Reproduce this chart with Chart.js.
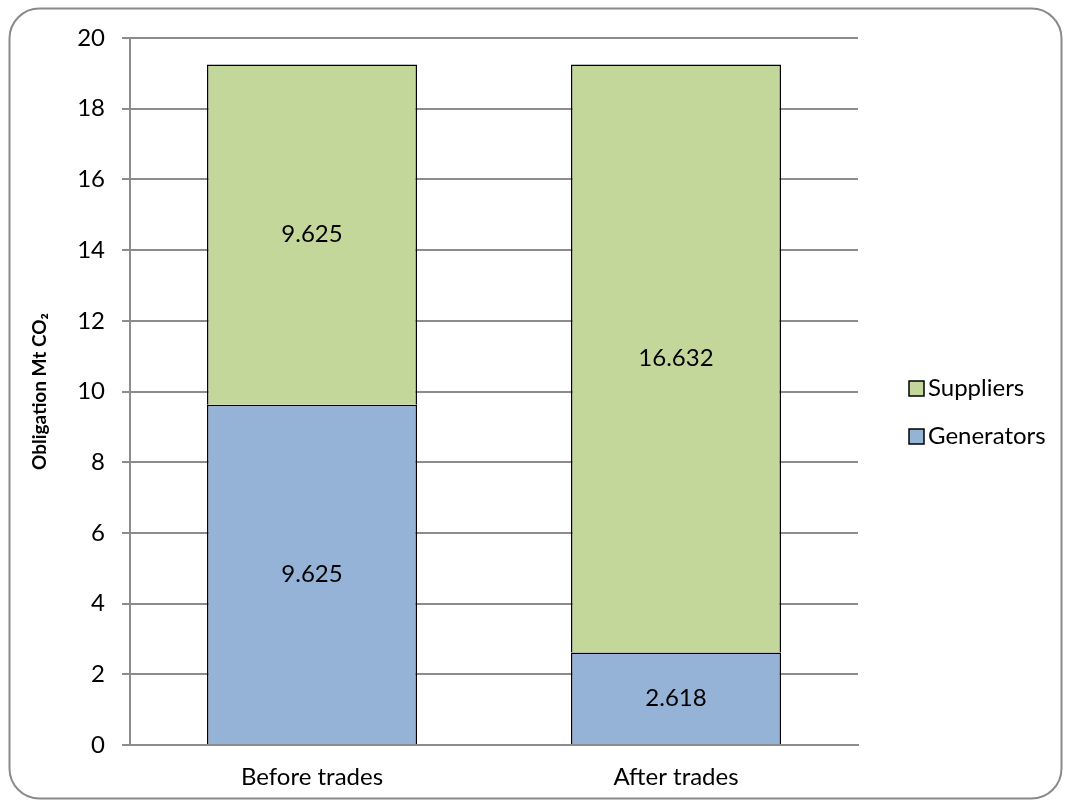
<!DOCTYPE html>
<html>
<head>
<meta charset="utf-8">
<script src="https://cdn.jsdelivr.net/npm/chart.js@4"></script>
<style>
  html, body { margin: 0; padding: 0; background: #fff; }
  #wrap { width: 1070px; height: 805px; }
</style>
</head>
<body>
<div id="wrap"><canvas id="obligationChart" width="1070" height="805"></canvas></div>
<script>
const categories = ['Before trades', 'After trades'];
const generators = [9.625, 2.618];
const suppliers = [9.625, 16.632];
const yTicks = [0, 2, 4, 6, 8, 10, 12, 14, 16, 18, 20];

const FONT = 'Lato, "Open Sans", sans-serif';
const BLUE = '#95B3D7';
const GREEN = '#C4D79B';

// rounded frame around the whole chart
const framePlugin = {
  id: 'frame',
  beforeDraw(chart) {
    const ctx = chart.ctx;
    ctx.save();
    ctx.fillStyle = '#fff';
    ctx.fillRect(0, 0, chart.width, chart.height);
    ctx.beginPath();
    ctx.roundRect(9.5, 8.5, 1052, 790, 30);
    ctx.strokeStyle = '#8a8a8a';
    ctx.lineWidth = 2;
    ctx.stroke();
    ctx.restore();
  }
};

// values written in the middle of each segment
const valueLabels = {
  id: 'valueLabels',
  afterDatasetsDraw(chart) {
    const ctx = chart.ctx;
    ctx.save();
    ctx.font = '24px ' + FONT;
    ctx.fillStyle = '#000';
    ctx.textAlign = 'center';
    ctx.textBaseline = 'middle';
    chart.data.datasets.forEach((ds, i) => {
      chart.getDatasetMeta(i).data.forEach((bar, j) => {
        const p = bar.getProps(['x', 'y', 'base'], true);
        ctx.fillText(ds.data[j].toFixed(3), p.x, (p.y + p.base) / 2);
      });
    });
    ctx.restore();
  }
};

// legend on the right, suppliers first
const sideLegend = {
  id: 'sideLegend',
  afterDraw(chart) {
    const ctx = chart.ctx;
    const items = [chart.data.datasets[1], chart.data.datasets[0]];
    ctx.save();
    ctx.font = '24px ' + FONT;
    ctx.textBaseline = 'middle';
    items.forEach((ds, i) => {
      const y = 388 + i * 48;
      ctx.fillStyle = ds.backgroundColor;
      ctx.fillRect(909, y - 7, 15, 15);
      ctx.strokeStyle = '#000';
      ctx.lineWidth = 1.5;
      ctx.strokeRect(909, y - 7, 15, 15);
      ctx.fillStyle = '#000';
      ctx.fillText(ds.label, 928, y);
    });
    ctx.restore();
  }
};

new Chart(document.getElementById('obligationChart'), {
  type: 'bar',
  data: {
    labels: categories,
    datasets: [
      { label: 'Generators', data: generators, backgroundColor: BLUE, borderColor: '#000', borderWidth: 1.5 },
      { label: 'Suppliers', data: suppliers, backgroundColor: GREEN, borderColor: '#000', borderWidth: 1.5 }
    ]
  },
  options: {
    responsive: false,
    animation: false,
    devicePixelRatio: 1,
    layout: { padding: { top: 38, right: 212, bottom: 0, left: 0 } },
    datasets: { bar: { categoryPercentage: 1, barPercentage: 0.577 } },
    plugins: { legend: { display: false }, tooltip: { enabled: false } },
    scales: {
      x: {
        stacked: true,
        grid: { display: false },
        border: { color: '#8c8c8c', width: 2 },
        ticks: { color: '#000', font: { family: FONT, size: 24 }, padding: 10 },
        afterFit(scale) { scale.height = 60; }
      },
      y: {
        stacked: true,
        min: 0,
        max: 20,
        afterBuildTicks(scale) { scale.ticks = yTicks.map(v => ({ value: v })); },
        grid: { color: '#8c8c8c', lineWidth: 2, tickLength: 8 },
        border: { color: '#8c8c8c', width: 2 },
        ticks: { color: '#000', font: { family: FONT, size: 24 }, padding: 17 },
        title: {
          display: true,
          text: 'Obligation Mt CO₂',
          color: '#000',
          font: { family: FONT, size: 19, weight: 'bold' },
          padding: { top: 28, bottom: 0 }
        },
        afterFit(scale) { scale.width = 130; }
      }
    }
  },
  plugins: [framePlugin, valueLabels, sideLegend]
});
</script>
</body>
</html>
